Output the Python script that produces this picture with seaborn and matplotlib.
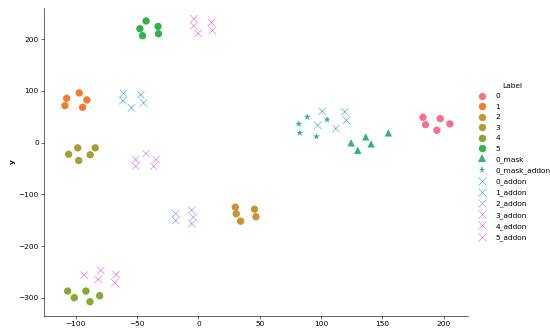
import numpy as np
import pandas as pd
import matplotlib
matplotlib.use("Agg")
import matplotlib.pyplot as plt
import seaborn as sns

# point coordinates, grouped by label
labels = ["0", "1", "2", "3", "4", "5", "0_mask", "0_mask_addon",
          "0_addon", "1_addon", "2_addon", "3_addon", "4_addon", "5_addon"]

x_0 = [183.2, 185.3, 197.3, 194.6, 205.2]
y_0 = [48.8, 34.7, 46.3, 23.7, 36.1]
x_1 = [-107.5, -97.2, -91.0, -108.9, -94.5]
y_1 = [85.5, 96.0, 82.4, 71.4, 68.1]
x_2 = [30.1, 30.9, 34.4, 45.8, 46.9]
y_2 = [-124.9, -137.6, -151.9, -128.8, -143.4]
x_3 = [-105.9, -98.5, -97.7, -88.3, -84.2]
y_3 = [-22.6, -10.2, -34.7, -23.7, -10.2]
x_4 = [-106.7, -101.3, -91.8, -88.5, -80.6]
y_4 = [-287.0, -299.8, -287.0, -307.5, -296.0]
x_5 = [-42.7, -47.8, -32.9, -45.6, -32.6]
y_5 = [235.0, 220.0, 224.5, 206.6, 210.4]
x_0_mask = [124.6, 130.0, 136.5, 140.9, 155.0]
y_0_mask = [-0.6, -14.9, 11.0, -2.5, 18.7]
x_0_mask_addon = [81.9, 88.8, 82.7, 105.0, 96.3]
y_0_mask_addon = [36.1, 49.6, 18.7, 44.4, 11.6]
x_0_addon = [101.0, 97.4, 112.1, 119.4, 120.8]
y_0_addon = [60.4, 33.4, 27.0, 59.3, 43.0]
x_1_addon = [-61.1, -61.6, -54.6, -47.0, -44.8]
y_1_addon = [95.2, 81.1, 67.0, 92.1, 76.6]
x_2_addon = [-18.5, -18.5, -5.5, -4.1, -5.5]
y_2_addon = [-137.0, -150.6, -130.7, -144.2, -157.0]
x_3_addon = [-51.1, -51.1, -42.9, -34.5, -36.4]
y_3_addon = [-32.8, -45.8, -21.2, -32.8, -45.8]
x_4_addon = [-93.2, -79.6, -81.8, -67.1, -68.2]
y_4_addon = [-256.2, -247.1, -264.5, -254.8, -270.8]
x_5_addon = [-3.6, -3.8, -0.3, 10.6, 11.4]
y_5_addon = [239.4, 225.3, 211.0, 232.2, 216.8]

xs = [x_0, x_1, x_2, x_3, x_4, x_5, x_0_mask, x_0_mask_addon,
      x_0_addon, x_1_addon, x_2_addon, x_3_addon, x_4_addon, x_5_addon]
ys = [y_0, y_1, y_2, y_3, y_4, y_5, y_0_mask, y_0_mask_addon,
      y_0_addon, y_1_addon, y_2_addon, y_3_addon, y_4_addon, y_5_addon]

df = pd.concat([pd.DataFrame({"x": xv, "y": yv, "Label": lab})
                for lab, xv, yv in zip(labels, xs, ys)], ignore_index=True)

markers = {}
for lab in labels:
    if lab == "0_mask":
        markers[lab] = "^"
    elif lab == "0_mask_addon":
        markers[lab] = "*"
    elif lab.endswith("_addon"):
        markers[lab] = "x"
    else:
        markers[lab] = "o"

palette = dict(zip(labels, sns.husl_palette(len(labels))))

# seaborn won't mix filled and line-art markers in one call, so split
filled = [lab for lab in labels if markers[lab] != "x"]
lines = [lab for lab in labels if markers[lab] == "x"]

dpi = 53
fig, ax = plt.subplots(figsize=(550 / dpi, 335 / dpi), dpi=dpi)
fig.subplots_adjust(left=0.08, right=0.851, top=0.976, bottom=0.057)

sns.scatterplot(data=df[df["Label"].isin(filled)], x="x", y="y",
                hue="Label", style="Label", hue_order=filled,
                style_order=filled, markers={k: markers[k] for k in filled},
                palette={k: palette[k] for k in filled}, s=100,
                linewidth=0, legend="full", ax=ax)
# second call picks up the first call's legend entries as well
sns.scatterplot(data=df[df["Label"].isin(lines)], x="x", y="y",
                hue="Label", style="Label", hue_order=lines,
                style_order=lines, markers={k: markers[k] for k in lines},
                palette={k: palette[k] for k in lines}, s=100,
                legend="full", ax=ax)

sns.despine(ax=ax)
ax.set_xlim(-126, 220)
ax.set_ylim(-335, 260)
ax.set_xticks([-100, -50, 0, 50, 100, 150, 200])
ax.set_yticks([-300, -200, -100, 0, 100, 200])
ax.set_xlabel("")
ax.set_ylabel("y", fontweight="bold")

sns.move_legend(ax, "center left", bbox_to_anchor=(1.0, 0.5),
                title="Label", frameon=False, labelspacing=0.58)

fig.savefig("out.png", dpi=dpi)
